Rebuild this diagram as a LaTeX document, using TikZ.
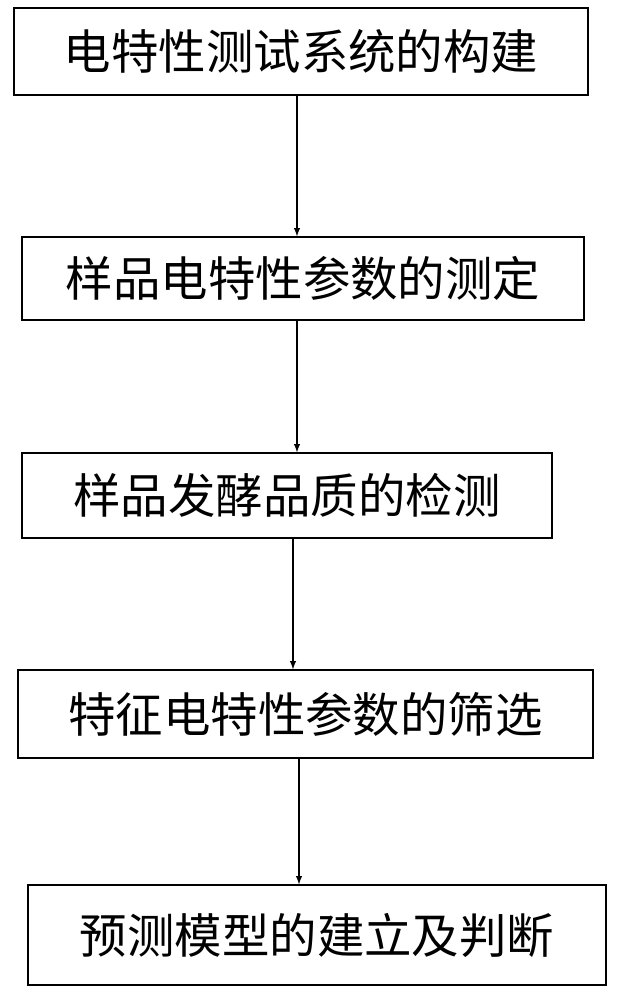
\documentclass[tikz,border=0pt]{standalone}
\usepackage{fontspec}
\newfontfamily\cjk{Noto Sans CJK SC}
\usetikzlibrary{positioning}
\tikzset{stepbox/.style={draw, line width=0.8pt, inner sep=0pt, font=\cjk\fontsize{27}{30}\selectfont}}
\begin{document}
\begin{tikzpicture}[x=0.02cm,y=-0.02cm,>=latex]
\useasboundingbox (0,0) rectangle (616,1000);
\node[stepbox, minimum width=11.48cm, minimum height=1.74cm] (b1) at (301,51.5) {电特性测试系统的构建};
\node[stepbox, minimum width=11.24cm, minimum height=1.66cm] (b2) at (303,278.5) {样品电特性参数的测定};
\node[stepbox, minimum width=10.6cm, minimum height=1.7cm] (b3) at (287,495.5) {样品发酵品质的检测};
\node[stepbox, minimum width=11.5cm, minimum height=1.76cm] (b4) at (305.5,714) {特征电特性参数的筛选};
\node[stepbox, minimum width=11.56cm, minimum height=2cm] (b5) at (317,935) {预测模型的建立及判断};
\draw[->, line width=0.6pt] ([xshift=-0.08cm]b1.south) -- ([xshift=-0.08cm]b1.south |- b2.north);
\draw[->, line width=0.6pt] ([xshift=-0.12cm]b2.south) -- ([xshift=-0.12cm]b2.south |- b3.north);
\draw[->, line width=0.6pt] ([xshift=0.12cm]b3.south) -- ([xshift=0.12cm]b3.south |- b4.north);
\draw[->, line width=0.6pt] ([xshift=-0.13cm]b4.south) -- ([xshift=-0.13cm]b4.south |- b5.north);
\end{tikzpicture}
\end{document}
